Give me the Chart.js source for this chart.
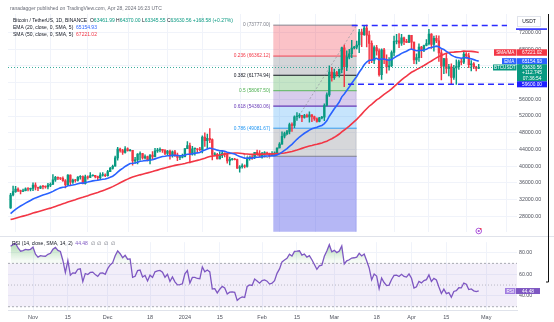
<!DOCTYPE html>
<html><head><meta charset="utf-8">
<script src="https://cdn.jsdelivr.net/npm/chart.js@4.4.1/dist/chart.umd.min.js"></script>
<style>
html,body{margin:0;padding:0;background:#fff;width:554px;height:322px;overflow:hidden;}
#c1{position:absolute;left:0;top:0;width:554px;height:237px;}
#c2{position:absolute;left:0;top:237px;width:554px;height:85px;}
</style></head><body>
<canvas id="c1" width="554" height="237"></canvas>
<canvas id="c2" width="554" height="85"></canvas>
<script>
// ---- Daily BTC/USDT candles, Oct 23 2023 (index 0) .. Apr 28 2024 (index 188) ----
const opens = [
29993,33086,33901,34502,34156,33909,34089,34538,34502,
34667,35437,34938,34732,35082,35049,35037,35443,35655,36702,37324,37138,37070,36491,35548,37880,36164,36625,36586,37387,37476,35814,37432,37289,37721,37796,37479,37254,37831,37858,
37724,38694,39461,39978,41980,44080,43746,43293,44170,43713,43789,41253,41492,42869,43022,41941,42278,41374,42657,42271,43652,43869,43997,43739,43016,43613,42520,43442,42627,42099,42156,
42283,44179,44946,42845,44151,44162,43974,43929,46951,46110,46633,46339,42782,42847,41732,42511,43137,42776,41262,41618,41665,41545,39507,39845,40077,39934,41816,42120,42031,43300,42941,
42580,43082,43200,43011,42582,42708,43098,44349,45288,47147,47771,48293,49958,49742,51826,51938,52160,51663,52122,51780,52284,51839,51304,50731,51571,51733,54522,57085,62504,
61198,62440,62029,63168,68330,63801,66106,66925,68300,68500,69019,72123,71481,73083,71397,69403,65316,68393,67609,61937,67840,65501,63796,64037,67211,69880,69988,69455,70744,69892,69645,
71333,69702,65446,65980,68508,67837,68896,69360,71620,69146,70631,70006,67116,63924,65738,63420,63793,61276,63512,63843,64994,64926,66837,66407,64276,64481,63755,63462];
const highs = [
33450,35198,35132,34824,34245,34480,34770,34856,34719,
35985,35984,34948,35255,35380,35283,35892,35980,37972,37526,37407,37228,37430,36800,37980,37929,36870,36845,37500,37760,37652,37866,37653,38432,37893,37820,37588,38397,38450,38145,
38999,39699,40250,42420,44488,44300,44040,44700,44360,44038,43804,42104,43000,43420,43080,42700,42424,42757,43497,44284,44242,44400,44018,43946,43781,43825,43683,43804,43124,42612,42899,
44184,45899,45500,44729,44340,44187,44495,47248,47972,47695,48969,46515,43257,43079,43400,43578,43198,42930,42195,41870,41888,41692,40129,40555,40300,42225,42200,42842,43305,43838,43745,
43285,43488,43381,43119,43494,43399,44396,45614,48200,48170,48592,50334,50368,52043,52820,52572,52191,52400,52485,52985,52370,52000,51548,51684,51950,54938,57588,64000,63676,
63230,62700,63230,68500,69000,67637,67985,70136,68673,69980,72800,72850,73650,73777,72357,70043,68845,68957,68124,68100,68240,66650,65999,67622,71150,71561,71769,71552,70913,70355,71366,
71342,69708,66914,69291,68725,69000,70327,72797,71758,71172,71305,71227,67932,65840,66867,64365,64486,64125,65450,65419,65695,67233,67199,67075,65275,64789,63923,64370];
const lows = [
29880,32835,33693,33877,33340,33860,34050,34076,34050,
34097,34300,34097,34585,34534,34730,34525,35100,35534,36333,36750,36748,36338,34800,35360,35500,35875,36178,36386,36900,35733,35670,36870,37251,37608,37150,36707,36882,37608,37500,
37616,38650,39286,39978,41420,43335,42821,43081,43584,43565,40222,40680,40555,41400,41666,41700,41250,40542,41811,42214,43283,43400,43300,42745,42765,41676,42167,42318,41300,41520,41965,
42180,44176,40750,42613,42625,43400,43662,43175,44748,44300,45606,41500,42436,41720,41718,42050,42200,40683,40280,41423,41500,39431,38555,39485,39550,39767,41395,41620,41804,42683,42276,
41884,42546,42880,42222,42500,42574,42788,44331,45242,46800,47557,47710,48300,49225,50960,51566,50625,51515,51716,50521,50625,50926,50500,50585,51280,50901,54450,56690,60364,
60777,61561,61321,62300,59005,62849,65655,66000,68051,68100,67194,68620,71335,68555,64533,64780,64545,66600,61555,60775,64529,62260,63000,63826,66385,69280,68360,68903,69076,69601,69562,
68110,64550,64493,65113,66011,67444,68824,69043,68210,67518,69567,65086,60660,62134,62274,61600,59768,60775,59600,63172,64237,64548,65864,63589,62784,63322,62824,63346];
const closes = [
33086,33901,34502,34156,33909,34089,34538,34502,34667,
35437,34938,34732,35082,35049,35037,35443,35655,36702,37324,37138,37070,36491,35548,37880,36164,36625,36586,37387,37476,35814,37432,37289,37721,37796,37479,37254,37831,37858,37724,
38694,39461,39978,41980,44080,43746,43293,44170,43713,43789,41253,41492,42869,43022,41941,42278,41374,42657,42271,43652,43869,43997,43739,43016,43613,42520,43442,42627,42099,42156,42283,
44179,44946,42845,44151,44162,43974,43929,46951,46110,46633,46339,42782,42847,41732,42511,43137,42776,41262,41618,41665,41545,39507,39845,40077,39934,41816,42120,42031,43300,42941,42580,
43082,43200,43011,42582,42708,43098,44349,45288,47147,47771,48293,49958,49742,51826,51938,52160,51663,52122,51780,52284,51839,51304,50731,51571,51733,54522,57085,62504,61198,
62440,62029,63168,68330,63801,66106,66925,68300,68500,69019,72123,71481,73083,71397,69403,65316,68393,67609,61937,67840,65501,63796,64037,67211,69880,69988,69455,70744,69892,69645,71333,
69702,65446,65980,68508,67837,68896,69360,71620,69146,70631,70006,67116,63924,65738,63420,63793,61276,63512,63843,64994,64926,66837,66407,64276,64481,63755,63419,63631];
// closes before the visible window (Sep 1 .. Oct 22 2023), used only to warm up the indicators
const warmupCloses = [
25940,25800,25869,25780,25756,25757,26240,25905,25895,25832,25162,25840,26228,26539,26608,26568,26527,26762,27211,27132,
26567,26580,26580,26256,26298,26217,26352,27021,26911,26968,27983,27530,27429,27799,27410,27946,27968,27935,27584,27391,
26873,26756,26862,26852,27154,28500,28395,28320,28714,29670,29909,29992];

// tick labels
const xTickIdx = [9,23,39,56,70,84,101,115,130,147,161,175,191];
const xTickLabels = ['Nov','15','Dec','18','2024','15','Feb','15','Mar','18','Apr','15','May'];
const priceTicks = [28000,32000,36000,40000,44000,48000,52000,56000,60000,64000,68000,72000];
const rsiTicks = [80,60,40];

// fib retracement & levels drawn on the chart
const fibHigh = 73777, fibLow = 42358;
const fibRatios = [0,0.236,0.382,0.5,0.618,0.786,1,1.618];
const fibStartIdx = 105.5, fibEndIdx = 139;
const resistLevel = 73700, supportLevel = 59600;
const resistStartIdx = 137, supportStartIdx = 135.5;

// header values
const hdr = {o:'63461.99', h:'64370.00', l:'63345.55', c:'63630.56', chg:'+168.58 (+0.27%)'};
const emaLast = 65154.93, smaLast = 67221.02, rsiLast = 44.48, lastPrice = 63630.56;

// ---- indicators ----
const all = warmupCloses.concat(closes);
const W = warmupCloses.length;
function calcEMA(src,n){const k=2/(n+1);let e=null;return src.map((v,i)=>{if(i<n-1)return null;if(i===n-1){e=src.slice(0,n).reduce((a,b)=>a+b,0)/n;}else e=v*k+e*(1-k);return e;});}
function calcSMA(src,n){return src.map((v,i)=>{if(i<n-1)return null;let s=0;for(let j=i-n+1;j<=i;j++)s+=src[j];return s/n;});}
function calcRSI(src,n){const out=src.map(()=>null);let ag=0,al=0;for(let i=1;i<src.length;i++){const d=src[i]-src[i-1];const g=Math.max(d,0),l=Math.max(-d,0);
 if(i<=n){ag+=g/n;al+=l/n;if(i===n)out[i]=al===0?100:100-100/(1+ag/al);}else{ag=(ag*(n-1)+g)/n;al=(al*(n-1)+l)/n;out[i]=al===0?100:100-100/(1+ag/al);}}return out;}
const ema20 = calcEMA(all,20).slice(W);
const sma50 = calcSMA(all,50).slice(W);
const rsi14 = calcRSI(all,14).slice(W);

// ---- geometry ----
const X_MIN = -1.04, X_MAX = 203.37;
const Y_MIN = 24258, Y_MAX = 76446;
const R_MIN = 26.96, R_MAX = 89.565;
const FONT = '"Liberation Sans", Arial, sans-serif';
const UP = '#089981', DOWN = '#F23645';
const f = s => s + 'px ' + FONT;

const idx = closes.map((_, i) => i);
const candleCol = idx.map(i => closes[i] >= opens[i] ? UP : DOWN);

function xScaleCfg(showLabels){
  return {
    type:'linear', min:X_MIN, max:X_MAX, offset:false,
    grid:{color:'#f0f3fa', lineWidth:1, drawTicks:false},
    border:{display:showLabels, color:'#e0e3eb'},
    ticks:{display:showLabels, autoSkip:false, maxRotation:0, padding:4, color:'#50535e',
      font:{size:5.5, family:FONT},
      callback:(v)=>{const k=xTickIdx.indexOf(v);return k>=0?xTickLabels[k]:'';}},
    afterBuildTicks:s=>{s.ticks = xTickIdx.map(v=>({value:v}));},
    afterFit:s=>{s.height = showLabels?12:0;}
  };
}

function segs(ctx,x,y,list,font){ctx.font=font;ctx.textBaseline='middle';ctx.textAlign='left';for(const [t,c] of list){ctx.fillStyle=c;ctx.fillText(t,x,y);x+=ctx.measureText(t).width;}}
function tag(ctx,x0,x1,yc,h,fill,text,col,font){ctx.fillStyle=fill;ctx.fillRect(x0,yc-h/2,x1-x0,h);ctx.fillStyle=col;ctx.font=font;ctx.textAlign='center';ctx.textBaseline='middle';ctx.fillText(text,(x0+x1)/2,yc+0.3);}

const fibFills = ['rgba(242,54,69,0.30)','rgba(120,123,134,0.32)','rgba(76,175,80,0.32)','rgba(103,58,183,0.26)','rgba(33,150,243,0.26)','rgba(120,123,134,0.30)','rgba(70,76,230,0.40)'];
const fibLineCols = ['#787B86','#F23645','#131722','#4CAF50','#673AB7','#2196F3','#787B86'];

const fibPlugin = {
  id:'fib',
  beforeDatasetsDraw(chart){
    const {ctx, chartArea:a, scales:{x,y}} = chart;
    const x0=x.getPixelForValue(fibStartIdx), x1=x.getPixelForValue(fibEndIdx);
    const lv = fibRatios.map(r=>fibHigh-(fibHigh-fibLow)*r);
    ctx.save();
    ctx.beginPath();ctx.rect(a.left,a.top,a.right-a.left,a.bottom-a.top);ctx.clip();
    for(let k=0;k<fibRatios.length-1;k++){
      const ya=y.getPixelForValue(lv[k]), yb=y.getPixelForValue(lv[k+1]);
      ctx.fillStyle=fibFills[k];ctx.fillRect(x0,ya,x1-x0,yb-ya);
    }
    for(let k=0;k<7;k++){
      const yy=y.getPixelForValue(lv[k]);
      ctx.strokeStyle=fibLineCols[k];ctx.lineWidth=(k===4||k===2)?1.2:0.9;
      ctx.beginPath();ctx.moveTo(x0,yy);ctx.lineTo(x1,yy);ctx.stroke();
    }
    ctx.setLineDash([2,2]);ctx.strokeStyle='#9598a1';ctx.lineWidth=0.8;
    ctx.beginPath();ctx.moveTo(x0,y.getPixelForValue(fibLow));ctx.lineTo(x1,y.getPixelForValue(fibHigh));ctx.stroke();
    ctx.setLineDash([]);
    ctx.font=f(4.8);ctx.textAlign='right';ctx.textBaseline='middle';
    for(let k=0;k<7;k++){
      const yy=y.getPixelForValue(lv[k]);
      ctx.fillStyle=fibLineCols[k];
      ctx.fillText(String(fibRatios[k])+' ('+lv[k].toFixed(2)+')',x0-3,yy);
    }
    ctx.restore();
  },
  afterDatasetsDraw(chart){
    const {ctx, chartArea:a, scales:{x,y}} = chart;
    ctx.save();
    ctx.beginPath();ctx.rect(a.left,a.top,a.right-a.left,a.bottom-a.top);ctx.clip();
    // current price dotted line
    ctx.setLineDash([1,2]);ctx.strokeStyle=UP;ctx.lineWidth=0.8;
    const yp=y.getPixelForValue(lastPrice);
    ctx.beginPath();ctx.moveTo(a.left,yp);ctx.lineTo(a.right,yp);ctx.stroke();
    // blue dashed levels
    ctx.setLineDash([6,4]);ctx.strokeStyle='#2b2bff';ctx.lineWidth=1.5;
    let yy=y.getPixelForValue(resistLevel);
    ctx.beginPath();ctx.moveTo(x.getPixelForValue(resistStartIdx),yy);ctx.lineTo(a.right-10,yy);ctx.stroke();
    yy=y.getPixelForValue(supportLevel);
    ctx.beginPath();ctx.moveTo(x.getPixelForValue(supportStartIdx),yy);ctx.lineTo(a.right,yy);ctx.stroke();
    ctx.setLineDash([]);
    ctx.restore();
  },
  afterDraw(chart){
    const {ctx, chartArea:a, scales:{x,y}} = chart;
    ctx.save();
    // header text
    ctx.font=f(5);ctx.fillStyle='#6a6d78';ctx.textBaseline='middle';ctx.textAlign='left';
    ctx.fillText('ranadagger published on TradingView.com, Apr 28, 2024 16:23 UTC',10,8.5);
    segs(ctx,13,20.5,[['Bitcoin / TetherUS, 1D, BINANCE  ','#131722'],['O','#131722'],[hdr.o,UP],[' H','#131722'],[hdr.h,UP],[' L','#131722'],[hdr.l,UP],[' C','#131722'],[hdr.c,UP],[' '+hdr.chg,UP]],f(5));
    segs(ctx,13,27.7,[['EMA (20, close, 0, SMA, 5)  ','#131722'],[emaLast.toFixed(2),'#2962FF']],f(5));
    segs(ctx,13,34.7,[['SMA (50, close, 0, SMA, 5)  ','#131722'],[smaLast.toFixed(2),'#F23645']],f(5));
    // axis separator
    ctx.strokeStyle='#e0e3eb';ctx.lineWidth=1;
    ctx.beginPath();ctx.moveTo(0,236.5);ctx.lineTo(554,236.5);ctx.stroke();
    // USDT header
    ctx.fillStyle='#fff';ctx.fillRect(517,16,24,11);ctx.strokeStyle='#e0e3eb';ctx.strokeRect(517.5,16.5,23,10);
    ctx.fillStyle='#131722';ctx.font=f(5);ctx.textAlign='center';ctx.fillText('USDT',529,21.5);
    ctx.fillStyle='#2b2bff';ctx.fillRect(516,28.3,31,1.6);
    // price tags
    const ys=y.getPixelForValue(smaLast), ye=y.getPixelForValue(emaLast), yl=y.getPixelForValue(lastPrice), ysu=y.getPixelForValue(supportLevel);
    tag(ctx,494,516.5,ys,6.5,'#F23645','SMA/MA','#fff',f(4.6));
    tag(ctx,517,547,ys,6.5,'#F23645',smaLast.toFixed(2),'#fff',f(4.8));
    tag(ctx,502,516.5,ye,6,'#2962FF','EMA','#fff',f(4.6));
    tag(ctx,517,547,ye,6,'#2962FF',emaLast.toFixed(2),'#fff',f(4.8));
    tag(ctx,493,516.5,yl,6,UP,'BTCUSDT','#fff',f(4.6));
    ctx.fillStyle=UP;ctx.fillRect(517,yl-3.3,30,17.2);
    ctx.fillStyle='#fff';ctx.font=f(4.8);ctx.textAlign='center';ctx.textBaseline='middle';
    ctx.fillText(lastPrice.toFixed(2),532,yl+0.3);ctx.fillText('+112.745',532,yl+5.6);ctx.fillText('07:36:54',532,yl+10.9);
    tag(ctx,517,547,ysu,6,'#1f1fff',supportLevel.toFixed(2),'#fff',f(4.8));
    // event marker
    const ex=x.getPixelForValue(closes.length-1);
    ctx.strokeStyle='#a64ad8';ctx.lineWidth=0.9;ctx.beginPath();ctx.arc(ex,231,2.8,0,Math.PI*2);ctx.stroke();
    ctx.fillStyle='#a64ad8';ctx.beginPath();ctx.arc(ex,231,1.1,0,Math.PI*2);ctx.fill();
    ctx.fillStyle='#F23645';ctx.beginPath();ctx.arc(ex+2,228.8,0.9,0,Math.PI*2);ctx.fill();
    // right frame line
    ctx.strokeStyle='#111';ctx.lineWidth=1;ctx.beginPath();ctx.moveTo(548.5,14);ctx.lineTo(548.5,237);ctx.stroke();
    ctx.restore();
  }
};

new Chart(document.getElementById('c1'),{
  type:'bar',
  data:{datasets:[
    {type:'line',label:'EMA',data:idx.map(i=>({x:i,y:ema20[i]})),borderColor:'#2962FF',borderWidth:1.6,pointRadius:0,tension:0,order:0},
    {type:'line',label:'SMA',data:idx.map(i=>({x:i,y:sma50[i]})),borderColor:'#F23645',borderWidth:1.6,pointRadius:0,tension:0,order:0},
    {label:'body',data:idx.map(i=>({x:i,y:[opens[i],closes[i]]})),backgroundColor:candleCol,borderWidth:0,barThickness:1.7,minBarLength:0.6,grouped:false,order:1},
    {label:'wick',data:idx.map(i=>({x:i,y:[lows[i],highs[i]]})),backgroundColor:candleCol,borderWidth:0,barThickness:0.8,grouped:false,order:2}
  ]},
  options:{
    responsive:false, animation:false, devicePixelRatio:1,
    layout:{padding:{left:8,top:14,right:0,bottom:0}},
    plugins:{legend:{display:false},tooltip:{enabled:false}},
    scales:{
      x:xScaleCfg(false),
      y:{position:'right',min:Y_MIN,max:Y_MAX,
        grid:{color:'#f0f3fa',drawTicks:false},border:{display:false},
        ticks:{padding:2,color:'#50535e',font:{size:5.3,family:FONT},callback:v=>Number(v).toFixed(2)},
        afterBuildTicks:s=>{s.ticks=priceTicks.map(v=>({value:v}));},
        afterFit:s=>{s.width=37;}}
    }
  },
  plugins:[fibPlugin]
});

// ---- RSI pane ----
const c2 = document.getElementById('c2');
const g2 = c2.getContext('2d');
const greenGrad = g2.createLinearGradient(0,1,0,23.5);
greenGrad.addColorStop(0,'rgba(76,175,80,0.55)');
greenGrad.addColorStop(1,'rgba(76,175,80,0.06)');

const rsiPlugin = {
  id:'rsiBands',
  beforeDatasetsDraw(chart){
    const {ctx, chartArea:a, scales:{y}} = chart;
    ctx.save();
    const y70=y.getPixelForValue(70), y30=y.getPixelForValue(30), y50=y.getPixelForValue(50);
    ctx.fillStyle='rgba(126,87,194,0.10)';ctx.fillRect(a.left,y70,a.right-a.left,y30-y70);
    ctx.strokeStyle='#9598a1';ctx.lineWidth=0.8;
    ctx.setLineDash([2,2]);
    ctx.beginPath();ctx.moveTo(a.left,y70);ctx.lineTo(a.right,y70);ctx.moveTo(a.left,y30);ctx.lineTo(a.right,y30);ctx.stroke();
    ctx.setLineDash([1,2]);ctx.strokeStyle='rgba(120,123,134,0.6)';
    ctx.beginPath();ctx.moveTo(a.left,y50);ctx.lineTo(a.right,y50);ctx.stroke();
    ctx.restore();
  },
  afterDraw(chart){
    const {ctx, scales:{y}} = chart;
    ctx.save();
    segs(ctx,12,6.3,[['RSI (14, close, SMA, 14, 2)  ','#131722'],[rsiLast.toFixed(2),'#7E57C2'],['  \u2205  \u2205  \u2205  \u2205','#6a6d78']],f(5));
    const yr=y.getPixelForValue(rsiLast);
    tag(ctx,505,515.5,yr,6,'#a07ce0','RSI','#fff',f(4.6));
    tag(ctx,516,540,yr,6,'#7E57C2',rsiLast.toFixed(2),'#fff',f(4.8));
    ctx.strokeStyle='#111';ctx.lineWidth=1;ctx.beginPath();ctx.moveTo(548.5,0);ctx.lineTo(548.5,45);ctx.lineTo(546,45);ctx.stroke();
    ctx.restore();
  }
};

new Chart(c2,{
  type:'line',
  data:{datasets:[
    {label:'RSI',data:idx.map(i=>({x:i,y:rsi14[i]})),borderColor:'#7E57C2',borderWidth:1.3,pointRadius:0,tension:0,
     fill:{target:{value:70},above:greenGrad,below:'rgba(0,0,0,0)'}}
  ]},
  options:{
    responsive:false, animation:false, devicePixelRatio:1,
    layout:{padding:{left:8,top:1,right:0,bottom:0}},
    plugins:{legend:{display:false},tooltip:{enabled:false}},
    scales:{
      x:xScaleCfg(true),
      y:{position:'right',min:R_MIN,max:R_MAX,
        grid:{color:'#f0f3fa',drawTicks:false},border:{display:false},
        ticks:{padding:2,color:'#50535e',font:{size:5.3,family:FONT},callback:v=>Number(v).toFixed(2)},
        afterBuildTicks:s=>{s.ticks=rsiTicks.map(v=>({value:v}));},
        afterFit:s=>{s.width=37;}}
    }
  },
  plugins:[rsiPlugin]
});
</script>
</body></html>
